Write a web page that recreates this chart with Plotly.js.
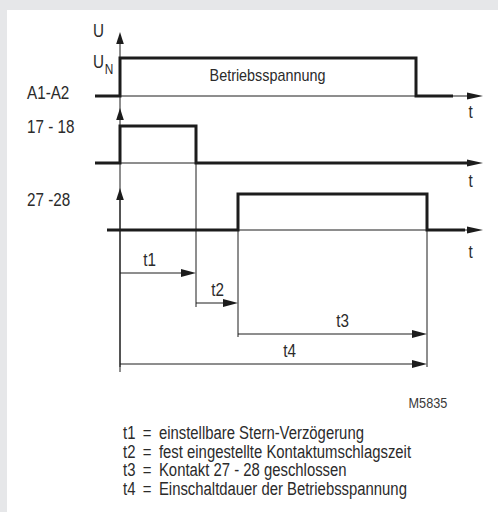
<!DOCTYPE html>
<html><head><meta charset="utf-8">
<script src="https://cdn.plot.ly/plotly-3.0.1.min.js"></script>
<style>html,body{margin:0;padding:0;overflow:hidden;background:#e6e7e9}</style>
</head><body><div id="chart" style="width:498px;height:512px"></div>
<script>
// ---- timing data (time units; 0 = switch-on of the supply voltage) ----
const signalNames   = ['A1-A2', '17 - 18', '27 -28'];
const supplyTimes   = [-25, 0, 0, 296, 296, 333];
const supplyLevels  = [0, 0, 1, 1, 0, 0];
const starTimes     = [-25, 0, 0, 76, 76, 350];
const starLevels    = [0, 0, 1, 1, 0, 0];
const deltaTimes    = [-13, 118, 118, 307, 307, 345];
const deltaLevels   = [0, 0, 1, 1, 0, 0];
const intervalNames = ['t1', 't2', 't3', 't4'];
const intervalStart = [0, 76, 118, 0];
const intervalEnd   = [76, 118, 307, 307];
const legendKeys  = ['t1', 't2', 't3', 't4'];
const legendTexts = [
  'einstellbare Stern-Verzögerung',
  'fest eingestellte Kontaktumschlagszeit',
  'Kontakt 27 - 28 geschlossen',
  'Einschaltdauer der Betriebsspannung'
];
const drawingCode = 'M5835';

// ---- layout constants (pixel-like units of the axes) ----
const rowBase = [96, 163, 230];
const rowAmp  = [38, 37, 36];
const axisStart = [-25, -25, -13];
const axisEnd = 363;
const dimY = [273, 303, 334, 364];
const dimLabelX = [29, 97, 222, 169];
const dimDropEnd = [null, 307, 337, 367];
const labelY = [93, 127, 200];
const ink = '#1c1c1c';
const txt = '#2b2b2b';
const FONT = '"Liberation Sans", Arial, Helvetica, sans-serif';
const SQUEEZE = 0.846;
const LEGEND_SQUEEZE = 0.826;

const traces = [];
const shapes = [];
const annotations = [];

function line(x, y, w) {
  traces.push({x: x, y: y, type: 'scatter', mode: 'lines', hoverinfo: 'skip',
    line: {color: ink, width: w, shape: 'linear'}, showlegend: false});
}
function head(tipX, tipY, dir, len, half) {
  let p;
  if (dir === 'right') p = `M${tipX},${tipY} L${tipX - len},${tipY - half} L${tipX - len},${tipY + half} Z`;
  else p = `M${tipX},${tipY} L${tipX - half},${tipY + len} L${tipX + half},${tipY + len} Z`;
  shapes.push({type: 'path', path: p, xref: 'x', yref: 'y', fillcolor: ink, line: {width: 0}});
}
function text(s, x, y, size, xanchor, color) {
  const xa = xanchor || 'center';
  annotations.push({text: s, x: x, y: y, xref: 'x', yref: 'y', showarrow: false,
    xanchor: xa, align: xa, yanchor: 'middle', borderpad: 0, borderwidth: 0,
    font: {family: FONT, size: size, color: color || txt}});
}

// time axes (thin) with arrowheads
rowBase.forEach((b, i) => {
  line([axisStart[i], axisEnd - 14], [b, b], 1);
  head(axisEnd, b, 'right', 16, 3.6);
});
// vertical axis with arrowheads
line([0, 0], [38, 372], 1);
[32, 108, 188].forEach(y => head(0, y, 'up', 12, 3.8));

// signals (thick)
const sig = [[supplyTimes, supplyLevels], [starTimes, starLevels], [deltaTimes, deltaLevels]];
sig.forEach((s, i) => {
  line(s[0], s[1].map(v => rowBase[i] - v * rowAmp[i]), 3);
});

// drop lines and dimension arrows
intervalNames.forEach((n, i) => {
  if (dimDropEnd[i] !== null) {
    const r = i === 1 ? 1 : 2;
    line([intervalStart[i], intervalStart[i]], [rowBase[r] - rowAmp[r], dimDropEnd[i]], 1);
  }
  line([intervalStart[i], intervalEnd[i] - 12], [dimY[i], dimY[i]], 1);
  head(intervalEnd[i], dimY[i], 'right', 15, 4);
  text(n, dimLabelX[i], dimY[i] - 13, 18);
});
// drop line at the end of t3 / t4
line([intervalEnd[3], intervalEnd[3]], [rowBase[2] - rowAmp[2], 367], 1);

// labels
signalNames.forEach((n, i) => text(n, -93, labelY[i], 18, 'left'));
text('U', -22, 31, 18);
text('U', -22, 62, 18);
text('N', -11, 69, 14);
text('Betriebsspannung', 147, 75, 17);
[112, 181, 252].forEach(y => text('t', 350, y, 18));
text(drawingCode, 308, 402, 15, 'center', '#3a3a3a');
legendKeys.forEach((k, i) => text(k + '\u2002=\u2002' + legendTexts[i], 3, 433 + i * 18.7, 18, 'left', txt));

const layout = {
  width: 498, height: 512,
  margin: {l: 7, r: 0, t: 10, b: 0, pad: 0},
  paper_bgcolor: '#e6e7e9', plot_bgcolor: '#ffffff',
  xaxis: {range: [-113, 378], visible: false, fixedrange: true},
  yaxis: {range: [512, 10], visible: false, fixedrange: true},
  shapes: shapes, annotations: annotations, showlegend: false
};
Plotly.newPlot('chart', traces, layout, {staticPlot: true, displayModeBar: false}).then(gd => {
  // condensed look: compress every label horizontally (text stays real SVG text)
  gd.querySelectorAll('.annotation-text').forEach(t => {
    const c = t.textContent;
    const f = legendKeys.some(k => c.startsWith(k + '\u2002')) ? LEGEND_SQUEEZE : SQUEEZE;
    const len = t.getComputedTextLength();
    t.setAttribute('textLength', (len * f).toFixed(2));
    t.setAttribute('lengthAdjust', 'spacingAndGlyphs');
  });
});
</script></body></html>
